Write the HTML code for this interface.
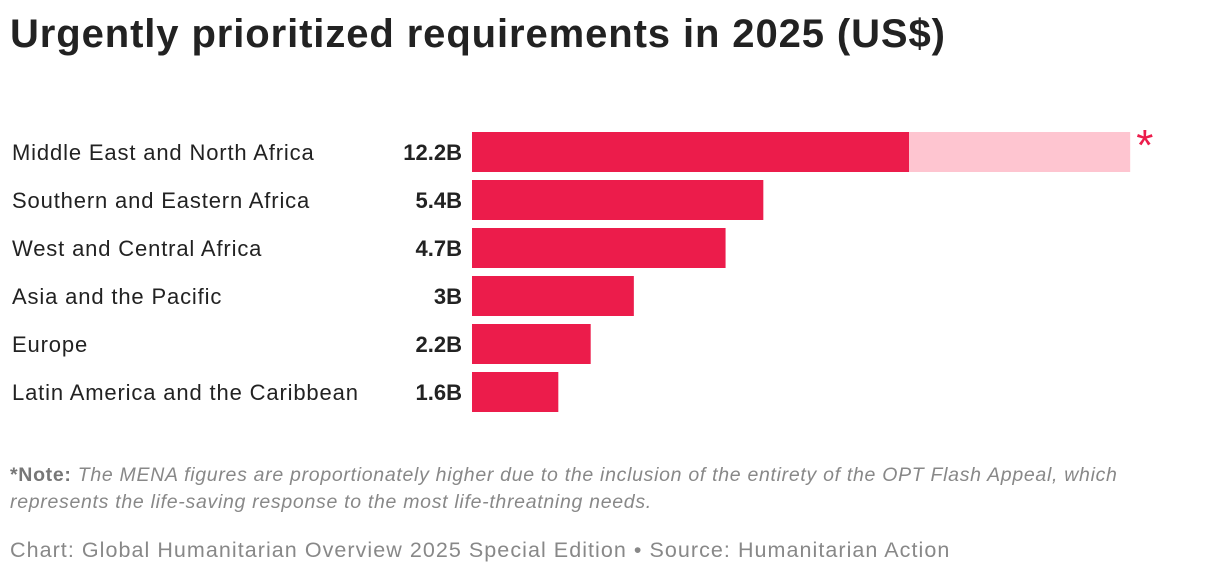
<!DOCTYPE html>
<html><head><meta charset="utf-8"><style>
body{margin:0;width:1220px;height:582px;background:#fff;font-family:"Liberation Sans",sans-serif;position:relative;overflow:hidden}
.t{position:absolute;left:10px;top:12px;font-size:40px;font-weight:bold;color:#222;letter-spacing:0.9px}
.note{position:absolute;left:10px;top:462px;width:1160px;font-size:19.5px;line-height:27px;color:#888;font-style:italic;letter-spacing:0.7px}
.note b{font-style:normal;color:#777}
.src{position:absolute;left:10px;top:538px;font-size:21.5px;color:#888;letter-spacing:1.05px}
</style></head><body>
<div class="t">Urgently prioritized requirements in 2025 (US$)</div>
<svg id="c" width="1220" height="440" style="position:absolute;left:0;top:0"></svg>
<div class="note"><b>*Note:</b> The MENA figures are proportionately higher due to the inclusion of the entirety of the OPT Flash Appeal, which represents the life-saving response to the most life-threatning needs.</div>
<div class="src">Chart: Global Humanitarian Overview 2025 Special Edition • Source: Humanitarian Action</div>
<script>
const categories=["Middle East and North Africa","Southern and Eastern Africa","West and Central Africa","Asia and the Pacific","Europe","Latin America and the Caribbean"];
const values=[12.2,5.4,4.7,3,2.2,1.6];
const labels=["12.2B","5.4B","4.7B","3B","2.2B","1.6B"];
const primary=[8.1,5.4,4.7,3,2.2,1.6];
const ns="http://www.w3.org/2000/svg";
const svg=document.getElementById('c');
const x=v=>472+v*53.95;
const y=i=>132+i*48;
function mk(t,a){const e=document.createElementNS(ns,t);for(const k in a)e.setAttribute(k,a[k]);svg.appendChild(e);return e;}
categories.forEach((c,i)=>{
  let t=mk('text',{x:12,y:y(i)+28,'font-size':22,fill:'#222','letter-spacing':0.85});t.textContent=c;
  
  
  let v=mk('text',{x:462,y:y(i)+28,'font-size':22,'font-weight':'bold',fill:'#222','text-anchor':'end'});v.textContent=labels[i];
  
  
  if(values[i]>primary[i]){
    let r2=mk('rect',{x:x(0),y:y(i),width:x(values[i])-x(0),height:40,fill:'#fec5d0'});
    
    
    let s=mk('text',{x:x(values[i])+6,y:y(i)+28,'font-size':44,fill:'#ec1c4b'});s.textContent='*';
    
    
  }
  let r=mk('rect',{x:x(0),y:y(i),width:x(primary[i])-x(0),height:40,fill:'#ec1c4b'});
  
  
});
</script>
</body></html>
